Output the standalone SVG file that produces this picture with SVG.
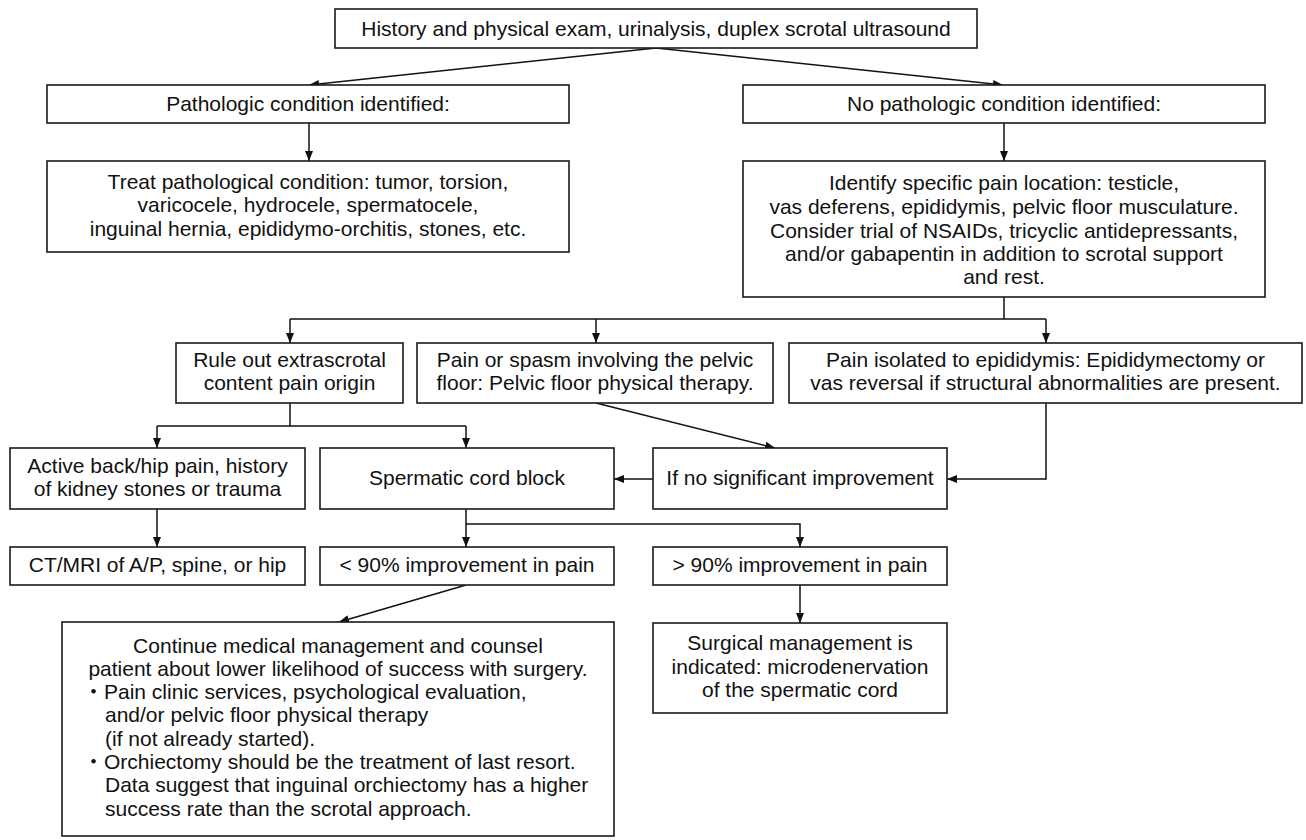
<svg xmlns="http://www.w3.org/2000/svg" width="1306" height="840" viewBox="0 0 1306 840">
<style>
rect.box{fill:#fff;stroke:#1a1a1a;stroke-width:1.6}
text{font-family:"Liberation Sans",Arial,"Noto Sans CJK JP",sans-serif;font-size:21px;fill:#111;text-anchor:middle}
text.l{text-anchor:start}
.c path,.c line,.c polyline{fill:none;stroke:#111;stroke-width:1.5}
</style>
<defs>
<marker id="ah" markerUnits="userSpaceOnUse" markerWidth="10" markerHeight="8" refX="10" refY="4" orient="auto">
<path d="M0,0 L10,4 L0,8 z" fill="#111"/>
</marker>
</defs>
<rect width="1306" height="840" fill="#fff"/>
<g class="c" id="connectors">
<line x1="656" y1="48" x2="309" y2="85" marker-end="url(#ah)"/>
<line x1="656" y1="48" x2="1003" y2="85" marker-end="url(#ah)"/>
<line x1="309" y1="123" x2="309" y2="161" marker-end="url(#ah)"/>
<line x1="1004" y1="123" x2="1004" y2="161" marker-end="url(#ah)"/>
<line x1="1004" y1="297" x2="1004" y2="319"/>
<line x1="290" y1="319" x2="1046" y2="319"/>
<line x1="290" y1="319" x2="290" y2="343" marker-end="url(#ah)"/>
<line x1="596" y1="319" x2="596" y2="343" marker-end="url(#ah)"/>
<line x1="1046" y1="319" x2="1046" y2="343" marker-end="url(#ah)"/>
<line x1="290" y1="403" x2="290" y2="426"/>
<line x1="157" y1="426" x2="466" y2="426"/>
<line x1="157" y1="426" x2="157" y2="448" marker-end="url(#ah)"/>
<line x1="466" y1="426" x2="466" y2="448" marker-end="url(#ah)"/>
<line x1="596" y1="403" x2="775" y2="448" marker-end="url(#ah)"/>
<polyline points="1046,403 1046,479 947,479" marker-end="url(#ah)"/>
<line x1="653" y1="479" x2="614" y2="479" marker-end="url(#ah)"/>
<line x1="157" y1="509" x2="157" y2="547" marker-end="url(#ah)"/>
<line x1="466" y1="509" x2="466" y2="547" marker-end="url(#ah)"/>
<polyline points="466,524 800,524 800,547" marker-end="url(#ah)"/>
<line x1="466" y1="585" x2="339" y2="622" marker-end="url(#ah)"/>
<line x1="800" y1="585" x2="800" y2="623" marker-end="url(#ah)"/>
</g>
<g id="n-start"><rect class="box" x="335" y="9" width="642" height="39"/><text x="656" y="36">History and physical exam, urinalysis, duplex scrotal ultrasound</text></g>
<g id="n-path"><rect class="box" x="47" y="85" width="522" height="38"/><text x="308" y="111">Pathologic condition identified:</text></g>
<g id="n-nopath"><rect class="box" x="743" y="85" width="522" height="38"/><text x="1004" y="111">No pathologic condition identified:</text></g>
<g id="n-treat"><rect class="box" x="47" y="161" width="522" height="91"/>
<text x="308" y="189">Treat pathological condition: tumor, torsion,</text>
<text x="308" y="212">varicocele, hydrocele, spermatocele,</text>
<text x="308" y="236">inguinal hernia, epididymo-orchitis, stones, etc.</text></g>
<g id="n-identify"><rect class="box" x="743" y="161" width="522" height="136"/>
<text x="1004" y="190">Identify specific pain location: testicle,</text>
<text x="1004" y="214">vas deferens, epididymis, pelvic floor musculature.</text>
<text x="1004" y="238">Consider trial of NSAIDs, tricyclic antidepressants,</text>
<text x="1004" y="261">and/or gabapentin in addition to scrotal support</text>
<text x="1004" y="284">and rest.</text></g>
<g id="n-ruleout"><rect class="box" x="176" y="343" width="227" height="60"/>
<text x="289.5" y="367">Rule out extrascrotal</text>
<text x="289.5" y="390">content pain origin</text></g>
<g id="n-spasm"><rect class="box" x="417" y="343" width="356" height="60"/>
<text x="595" y="367">Pain or spasm involving the pelvic</text>
<text x="595" y="390">floor: Pelvic floor physical therapy.</text></g>
<g id="n-epid"><rect class="box" x="789" y="343" width="513" height="60"/>
<text x="1045.5" y="367">Pain isolated to epididymis: Epididymectomy or</text>
<text x="1045.5" y="390">vas reversal if structural abnormalities are present.</text></g>
<g id="n-active"><rect class="box" x="10" y="448" width="295" height="61"/>
<text x="157.5" y="473">Active back/hip pain, history</text>
<text x="157.5" y="496">of kidney stones or trauma</text></g>
<g id="n-cord"><rect class="box" x="320" y="448" width="294" height="61"/><text x="467" y="485">Spermatic cord block</text></g>
<g id="n-ifno"><rect class="box" x="653" y="448" width="294" height="61"/><text x="800" y="485">If no significant improvement</text></g>
<g id="n-ct"><rect class="box" x="10" y="547" width="295" height="38"/><text x="157.5" y="572">CT/MRI of A/P, spine, or hip</text></g>
<g id="n-lt90"><rect class="box" x="320" y="547" width="294" height="38"/><text x="467" y="572">&lt; 90% improvement in pain</text></g>
<g id="n-gt90"><rect class="box" x="653" y="547" width="294" height="38"/><text x="800" y="572">&gt; 90% improvement in pain</text></g>
<g id="n-continue"><rect class="box" x="62" y="622" width="552" height="214"/>
<text x="338" y="653">Continue medical management and counsel</text>
<text x="338" y="676">patient about lower likelihood of success with surgery.</text>
<text class="l" x="83" y="699">・Pain clinic services, psychological evaluation,</text>
<text class="l" x="105" y="722">and/or pelvic floor physical therapy</text>
<text class="l" x="105" y="746">(if not already started).</text>
<text class="l" x="83" y="769">・Orchiectomy should be the treatment of last resort.</text>
<text class="l" x="105" y="792">Data suggest that inguinal orchiectomy has a higher</text>
<text class="l" x="105" y="816">success rate than the scrotal approach.</text></g>
<g id="n-surgical"><rect class="box" x="653" y="623" width="294" height="90"/>
<text x="800" y="650">Surgical management is</text>
<text x="800" y="674">indicated: microdenervation</text>
<text x="800" y="697">of the spermatic cord</text></g>
</svg>
